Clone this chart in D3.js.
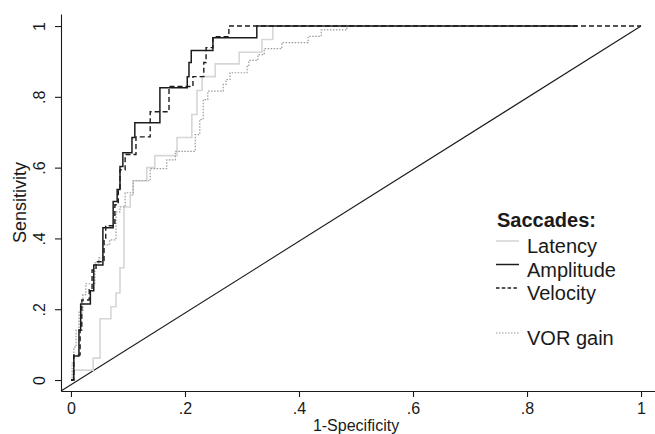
<!DOCTYPE html>
<meta charset="utf-8">
<head>
    <style>
        body {margin: 0; background-color: #ffffff;}
        text {font-family: "Liberation Sans", Arial, sans-serif; fill: #1a1a1a;}
    </style>
    <title>ROC saccades</title>
</head>
<body>
    <script src="https://d3js.org/d3.v7.min.js"></script>
    <script>

    const width = 655, height = 434;

    // [1-specificity, sensitivity] at each step of the ROC curve
    const latency = [[0,0],[0.004,0.028],[0.039,0.062],[0.051,0.173],[0.070,0.207],[0.079,0.246],[0.086,0.317],
      [0.093,0.489],[0.104,0.523],[0.109,0.563],[0.133,0.600],[0.147,0.634],[0.186,0.685],[0.212,0.750],
      [0.221,0.818],[0.230,0.857],[0.253,0.893],[0.295,0.926],[0.335,0.962],[0.354,1],[0.888,1]];
    const amplitude = [[0,0],[0.005,0.068],[0.014,0.141],[0.017,0.215],[0.034,0.252],[0.040,0.325],[0.056,0.430],
      [0.074,0.504],[0.081,0.538],[0.086,0.603],[0.091,0.642],[0.107,0.685],[0.112,0.727],[0.156,0.826],
      [0.204,0.857],[0.207,0.897],[0.211,0.931],[0.249,0.967],[0.326,1],[0.888,1]];
    const velocity = [[0,0],[0.005,0.071],[0.016,0.141],[0.019,0.226],[0.032,0.255],[0.037,0.311],[0.044,0.334],
      [0.058,0.396],[0.061,0.436],[0.077,0.495],[0.083,0.538],[0.086,0.594],[0.095,0.637],[0.114,0.687],
      [0.139,0.758],[0.172,0.829],[0.214,0.857],[0.233,0.897],[0.237,0.939],[0.249,0.970],[0.277,1],[1,1]];
    const vorGain = [[0,0],[0.002,0.048],[0.005,0.093],[0.009,0.141],[0.014,0.192],[0.021,0.241],[0.026,0.272],
      [0.042,0.331],[0.049,0.345],[0.056,0.382],[0.068,0.396],[0.079,0.475],[0.086,0.489],[0.095,0.529],
      [0.109,0.563],[0.139,0.597],[0.168,0.622],[0.183,0.646],[0.218,0.693],[0.226,0.736],[0.232,0.792],
      [0.240,0.816],[0.267,0.835],[0.272,0.849],[0.279,0.868],[0.309,0.886],[0.312,0.903],[0.328,0.919],
      [0.339,0.936],[0.370,0.953],[0.416,0.971],[0.439,0.989],[0.484,1],[0.888,1]];

    const tickValues = [0, 0.2, 0.4, 0.6, 0.8, 1];
    const tickLabels = ["0", ".2", ".4", ".6", ".8", "1"];
    const legendTitle = "Saccades:";
    const legendNames = ["Latency", "Amplitude", "Velocity", "", "VOR gain"];

    const series = [
      {name: "Latency", data: latency, color: "#d6d6d6", width: 1.6, dash: null},
      {name: "VOR gain", data: vorGain, color: "#9a9a9a", width: 1.2, dash: "1.5,1.5"},
      {name: "Amplitude", data: amplitude, color: "#1c1c1c", width: 1.5, dash: null},
      {name: "Velocity", data: velocity, color: "#1c1c1c", width: 1.4, dash: "5,3"}
    ];

    var svg = d3.select("body")
      .append("svg")
        .attr("width", width)
        .attr("height", height);

    var xScale = d3.scaleLinear()
      .domain([-0.0175, 1.0245])
      .range([61, 655]);

    var yScale = d3.scaleLinear()
      .domain([-0.031, 1.034])
      .range([391, 14]);

    // reference diagonal
    svg.append("line")
      .attr("x1", xScale(xScale.domain()[0]))
      .attr("y1", yScale(yScale.domain()[0]))
      .attr("x2", xScale(1))
      .attr("y2", yScale(1))
      .style("stroke", "#1a1a1a")
      .style("stroke-width", 1.1);

    var line = d3.line()
      .x((d) => xScale(d[0]))
      .y((d) => yScale(d[1]))
      .curve(d3.curveStepAfter);

    series.forEach(function(s) {
      svg.append("path")
        .datum(s.data)
        .attr("d", line)
        .style("fill", "none")
        .style("stroke", s.color)
        .style("stroke-width", s.width)
        .style("stroke-dasharray", s.dash);
    });

    // x axis
    var xAxis = svg.append("g")
      .attr("transform", "translate(0," + yScale.range()[0] + ")")
      .call(d3.axisBottom(xScale)
        .tickValues(tickValues)
        .tickFormat((d, i) => tickLabels[i])
        .tickSize(6)
        .tickSizeOuter(0)
        .tickPadding(6));
    xAxis.selectAll("text")
      .style("font-size", "16px")
      .style("font-family", "'Liberation Sans', Arial, sans-serif")
      .attr("fill", "#1a1a1a");

    // y axis
    var yAxis = svg.append("g")
      .attr("transform", "translate(" + xScale.range()[0] + ",0)")
      .call(d3.axisLeft(yScale)
        .tickValues(tickValues)
        .tickFormat((d, i) => tickLabels[i])
        .tickSize(6)
        .tickSizeOuter(0));
    yAxis.selectAll("text")
      .attr("x", 0)
      .attr("dy", null)
      .attr("text-anchor", "middle")
      .attr("transform", "translate(-16,0) rotate(-90)")
      .style("font-size", "16px")
      .style("font-family", "'Liberation Sans', Arial, sans-serif")
      .attr("fill", "#1a1a1a");

    svg.selectAll(".domain, .tick line")
      .style("stroke", "#1a1a1a")
      .style("stroke-width", 1.1);

    svg.append("text")
      .attr("x", (xScale(0) + xScale(1)) / 2)
      .attr("y", 431)
      .attr("text-anchor", "middle")
      .style("font-size", "16px")
      .text("1-Specificity");

    svg.append("text")
      .attr("transform", "translate(26," + (yScale.range()[0] + yScale.range()[1]) / 2 + ") rotate(-90)")
      .attr("text-anchor", "middle")
      .style("font-size", "18px")
      .text("Sensitivity");

    // legend
    var legend = svg.append("g").attr("transform", "translate(496,0)");
    legend.append("text")
      .attr("x", 1)
      .attr("y", 227)
      .style("font-size", "20px")
      .style("font-weight", "bold")
      .text(legendTitle);

    const legendRows = [253, 276.5, 300, 322, 345];
    const legendStyle = {
      "Latency": series[0], "VOR gain": series[1], "Amplitude": series[2], "Velocity": series[3]
    };
    legendNames.forEach(function(name, i) {
      if (name === "") return;
      var s = legendStyle[name];
      legend.append("line")
        .attr("x1", 0)
        .attr("x2", 23)
        .attr("y1", legendRows[i] - 12)
        .attr("y2", legendRows[i] - 12)
        .style("stroke", s.color)
        .style("stroke-width", s.width)
        .style("stroke-dasharray", name === "Velocity" ? "3.5,2.3" : s.dash);
      legend.append("text")
        .attr("x", 31)
        .attr("y", legendRows[i])
        .style("font-size", "20px")
        .text(name);
    });

    </script>
</body>
</html>
